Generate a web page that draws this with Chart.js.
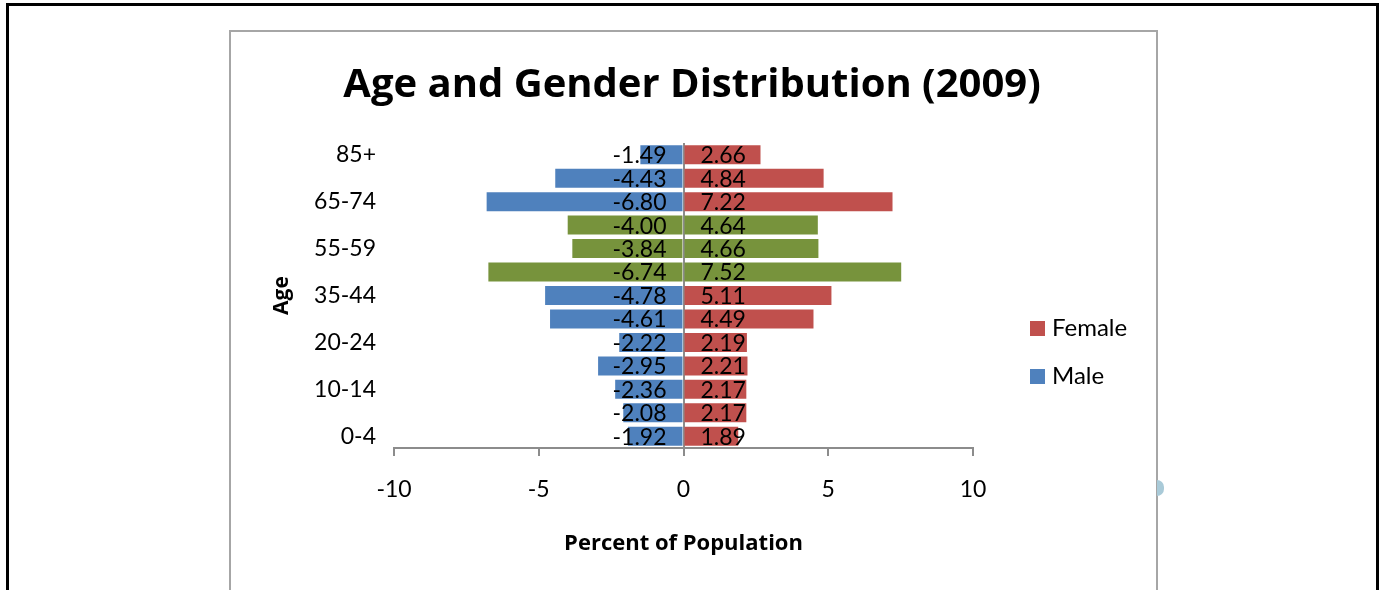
<!DOCTYPE html>
<html>
<head>
<meta charset="utf-8">
<script src="https://cdn.jsdelivr.net/npm/chart.js@4.4.1/dist/chart.umd.min.js"></script>
<style>
  html, body { margin: 0; padding: 0; background: #fff; }
  #page { position: relative; width: 1380px; height: 590px; overflow: hidden; }
  #outer { position: absolute; left: 6px; top: 3px; width: 1367px; height: 640px; border: 3px solid #000; }
  #frame { position: absolute; left: 229px; top: 30px; width: 925px; height: 640px; border: 2px solid #a6a6a6; }
  #handle { position: absolute; left: 1157px; top: 480px; width: 7px; height: 16px; border-radius: 0 8px 8px 0; background: #a9cad8; }
  #chart { position: absolute; left: 0; top: 0; }
</style>
</head>
<body>
<div id="page">
  <div id="outer"></div>
  <div id="frame"></div>
  <div id="handle"></div>
  <canvas id="chart" width="1380" height="590"></canvas>
</div>
<script>
const ageGroups = ['0-4', '5-9', '10-14', '15-19', '20-24', '25-34', '35-44', '45-54', '55-59', '60-64', '65-74', '75-84', '85+'];
const maleValues = [-1.92, -2.08, -2.36, -2.95, -2.22, -4.61, -4.78, -6.74, -3.84, -4.00, -6.80, -4.43, -1.49];
const femaleValues = [1.89, 2.17, 2.17, 2.21, 2.19, 4.49, 5.11, 7.52, 4.66, 4.64, 7.22, 4.84, 2.66];
const highlightedGroups = ['45-54', '55-59', '60-64'];
const xTicks = [-10, -5, 0, 5, 10];

const palette = {
  male: '#4f81bd',
  female: '#c0504d',
  highlight: '#77933c',
  axis: '#8c8c8c',
  text: '#000000',
};

const FONT = 'Lato, "Open Sans", sans-serif';
const BOLD_FONT = '"Open Sans", Lato, sans-serif';

const barColor = (base) => (ctx) =>
  highlightedGroups.includes(ageGroups[ctx.dataIndex]) ? palette.highlight : base;

// value labels sit just inside the zero line, like Excel's "inside base"
const valueLabels = {
  id: 'valueLabels',
  afterDatasetsDraw(chart) {
    const { ctx } = chart;
    ctx.save();
    ctx.font = `23px ${FONT}`;
    ctx.fillStyle = palette.text;
    ctx.textBaseline = 'middle';
    chart.data.datasets.forEach((ds, di) => {
      chart.getDatasetMeta(di).data.forEach((bar, i) => {
        const v = ds.data[i];
        const neg = v < 0;
        ctx.textAlign = neg ? 'right' : 'left';
        ctx.fillText(v.toFixed(2), bar.base + (neg ? -16 : 16), bar.y + 1);
      });
    });
    ctx.restore();
  },
};

// chart title + legend drawn on the canvas, positioned like the original
const frameText = {
  id: 'frameText',
  afterDraw(chart) {
    const { ctx } = chart;
    ctx.save();
    ctx.fillStyle = palette.text;
    ctx.textAlign = 'center';
    ctx.textBaseline = 'alphabetic';
    ctx.font = `bold 40px ${BOLD_FONT}`;
    ctx.fillText('Age and Gender Distribution (2009)', 692, 97);

    const items = chart.data.datasets.slice().reverse();
    ctx.font = `24px ${FONT}`;
    ctx.textAlign = 'left';
    items.forEach((ds, i) => {
      const y = 321 + i * 48;
      ctx.fillStyle = ds.legendColor;
      ctx.fillRect(1030, y, 15, 15);
      ctx.fillStyle = palette.text;
      ctx.fillText(ds.label, 1052, y + 15);
    });
    ctx.restore();
  },
};

new Chart(document.getElementById('chart'), {
  type: 'bar',
  data: {
    labels: ageGroups,
    datasets: [
      {
        label: 'Male',
        data: maleValues,
        backgroundColor: barColor(palette.male),
        legendColor: palette.male,
        barPercentage: 0.81,
        categoryPercentage: 1,
      },
      {
        label: 'Female',
        data: femaleValues,
        backgroundColor: barColor(palette.female),
        legendColor: palette.female,
        barPercentage: 0.81,
        categoryPercentage: 1,
      },
    ],
  },
  options: {
    indexAxis: 'y',
    responsive: false,
    animation: false,
    layout: { padding: { top: 143, right: 407, left: 0, bottom: 0 } },
    plugins: {
      legend: { display: false },
      title: { display: false },
      tooltip: { enabled: false },
    },
    scales: {
      x: {
        stacked: true,
        min: -10,
        max: 10,
        z: 1,
        afterBuildTicks: (scale) => { scale.ticks = xTicks.map((value) => ({ value })); },
        afterFit: (scale) => { scale.height = 142; },
        ticks: {
          color: palette.text,
          font: { family: FONT, size: 23 },
          padding: 20,
        },
        grid: {
          color: (c) => (c.tick && c.tick.value === 0 ? palette.axis : 'rgba(0,0,0,0)'),
          tickColor: palette.axis,
          tickLength: 8,
          lineWidth: 2,
        },
        border: { color: palette.axis, width: 2 },
        title: {
          display: true,
          text: 'Percent of Population',
          color: palette.text,
          font: { family: BOLD_FONT, size: 22, weight: 'bold' },
          padding: { top: 0, bottom: 33 },
        },
      },
      y: {
        stacked: true,
        reverse: true,
        afterFit: (scale) => { scale.width = 394; },
        ticks: {
          autoSkip: false,
          color: palette.text,
          font: { family: FONT, size: 23 },
          padding: 18,
          callback: (value, index) => (index % 2 === 0 ? ageGroups[index] : ''),
        },
        grid: { display: false, drawTicks: false },
        border: { display: false },
        title: {
          display: true,
          text: 'Age',
          color: palette.text,
          font: { family: BOLD_FONT, size: 21, weight: 'bold' },
          padding: { top: 269, bottom: 0 },
        },
      },
    },
  },
  plugins: [valueLabels, frameText],
});
</script>
</body>
</html>
